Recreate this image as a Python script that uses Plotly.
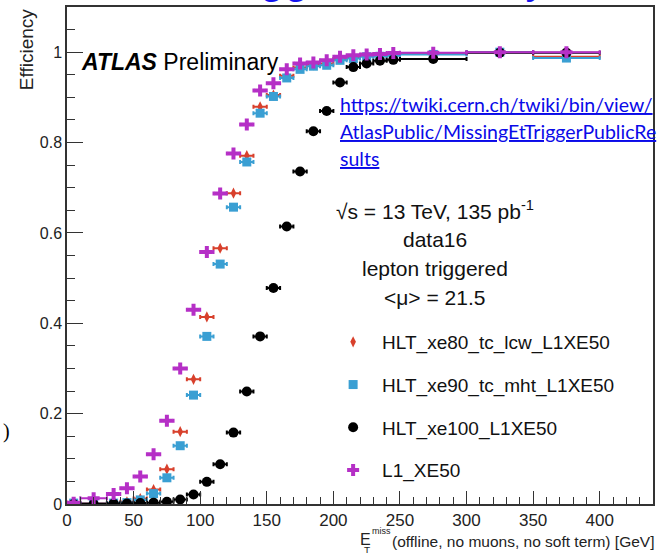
import plotly.graph_objects as go

# ---- data ----
x_centers = [5, 20, 35, 45, 55, 65, 75, 85, 95, 105, 115, 125, 135, 145, 155,
             165, 175, 185, 195, 205, 215, 225, 235, 245, 275, 325, 375]
x_halfwidth = [5, 10, 5, 5, 5, 5, 5, 5, 5, 5, 5, 5, 5, 5, 5,
               5, 5, 5, 5, 5, 5, 5, 5, 5, 25, 25, 25]

eff_xe80_tc_lcw = [0.003, 0.002, 0.003, 0.005, 0.012, 0.032, 0.077, 0.160, 0.276, 0.414,
                   0.566, 0.688, 0.771, 0.879, 0.905, 0.948, 0.966, 0.972, 0.975, 0.985,
                   0.988, 0.992, 0.993, 0.994, 0.996, 1.000, 0.990]
eff_xe90_tc_mht = [0.002, 0.001, 0.002, 0.003, 0.009, 0.023, 0.058, 0.129, 0.241, 0.371,
                   0.531, 0.657, 0.757, 0.865, 0.902, 0.943, 0.962, 0.969, 0.971, 0.982,
                   0.986, 0.990, 0.991, 0.992, 0.995, 1.000, 0.987]
eff_xe100 = [0.000, 0.000, 0.001, 0.001, 0.002, 0.003, 0.005, 0.010, 0.021, 0.049,
             0.088, 0.158, 0.249, 0.371, 0.478, 0.614, 0.736, 0.825, 0.870, 0.933,
             0.967, 0.975, 0.981, 0.983, 0.985, 0.999, 0.999]
eff_l1_xe50 = [0.003, 0.013, 0.022, 0.035, 0.061, 0.110, 0.184, 0.300, 0.430, 0.558,
               0.687, 0.776, 0.840, 0.915, 0.931, 0.962, 0.975, 0.977, 0.982, 0.990,
               0.993, 0.995, 0.996, 0.998, 0.999, 1.000, 1.000]

series_names = ["HLT_xe80_tc_lcw_L1XE50", "HLT_xe90_tc_mht_L1XE50",
                "HLT_xe100_L1XE50", "L1_XE50"]
series_values = [eff_xe80_tc_lcw, eff_xe90_tc_mht, eff_xe100, eff_l1_xe50]
series_colors = ["#d8402c", "#3a9fd3", "#000000", "#b52fc6"]
series_symbols = ["diamond-tall", "square", "circle", "cross"]
series_sizes = [8, 9, 10, 10]

x_ticks = [0, 50, 100, 150, 200, 250, 300, 350, 400]
y_ticks = [0, 0.2, 0.4, 0.6, 0.8, 1.0]
y_tick_labels = ["0", "0.2", "0.4", "0.6", "0.8", "1"]

FONT = "Liberation Sans"

# ---- figure geometry (pixels of the 660x553 page) ----
W, H = 660, 553
L, R, T, B = 67, 5, 7, 49
PW, PH = W - L - R, H - T - B


def px(xp):
    return (xp - L) / PW


def py(yp):
    return (H - B - yp) / PH


fig = go.Figure()
for name, vals, col, sym, size in zip(series_names, series_values, series_colors,
                                      series_symbols, series_sizes):
    fig.add_trace(go.Scatter(
        x=x_centers, y=vals, mode="markers", name=name, legendgroup=name,
        marker=dict(color=col, symbol=sym, size=size, line=dict(width=0)),
        error_x=dict(type="data", array=x_halfwidth, color=col, thickness=2, width=2),
    ))

fig.update_layout(
    width=W, height=H,
    margin=dict(l=L, r=R, t=T, b=B, pad=0),
    paper_bgcolor="white", plot_bgcolor="white",
    font=dict(family=FONT, color="black"),
    showlegend=True,
    legend=dict(
        x=px(325), y=py(323), xanchor="left", yanchor="top",
        bgcolor="rgba(0,0,0,0)", borderwidth=0,
        font=dict(family=FONT, size=19, color="#111111"),
        itemwidth=48, tracegroupgap=15, traceorder="grouped",
    ),
    xaxis=dict(
        range=[0, 440], showgrid=False, zeroline=False,
        showline=True, linecolor="#333333", linewidth=1.5, mirror=True,
        ticks="inside", ticklen=13, tickwidth=1.2, tickcolor="#333333",
        tickvals=x_ticks, ticktext=[str(v) for v in x_ticks],
        tickfont=dict(family=FONT, size=17, color="#222222"),
        minor=dict(dtick=10, ticks="inside", ticklen=7, tickwidth=1.2, tickcolor="#333333"),
    ),
    yaxis=dict(
        range=[0, 1.1], showgrid=False, zeroline=False,
        showline=True, linecolor="#333333", linewidth=1.5, mirror=True,
        ticks="inside", ticklen=16, tickwidth=1.2, tickcolor="#333333",
        tickvals=y_ticks, ticktext=y_tick_labels,
        tickfont=dict(family=FONT, size=16, color="#222222"),
        minor=dict(dtick=0.05, ticks="inside", ticklen=8, tickwidth=1.2, tickcolor="#333333"),
    ),
)

ann = []
# clipped slide title at the very top
ann.append(dict(text="Trigger Efficiency", x=px(208), y=py(4), xref="paper", yref="paper",
                xanchor="left", yanchor="bottom", showarrow=False,
                font=dict(family=FONT, size=44, color="#1414f0")))
# stray character at the left edge
ann.append(dict(text=")", x=px(6), y=py(432), xref="paper", yref="paper",
                xanchor="center", yanchor="middle", showarrow=False,
                font=dict(family="Liberation Serif", size=20, color="black")))
# y-axis title
ann.append(dict(text="Efficiency", x=px(26), y=py(50), xref="paper", yref="paper",
                xanchor="center", yanchor="middle", textangle=-90, showarrow=False,
                font=dict(family=FONT, size=19, color="#222222")))
# x-axis title
ann.append(dict(text="(offline, no muons, no soft term) [GeV]",
                x=px(658), y=py(541), xref="paper", yref="paper",
                xanchor="right", yanchor="middle", showarrow=False,
                font=dict(family=FONT, size=15.5, color="#222222")))
ann.append(dict(text="E", x=px(367), y=py(539), xref="paper", yref="paper",
                xanchor="center", yanchor="middle", showarrow=False,
                font=dict(family=FONT, size=16, color="#222222")))
ann.append(dict(text="miss", x=px(371), y=py(531), xref="paper", yref="paper",
                xanchor="left", yanchor="middle", showarrow=False,
                font=dict(family=FONT, size=9, color="#222222")))
ann.append(dict(text="T", x=px(368), y=py(551), xref="paper", yref="paper",
                xanchor="center", yanchor="middle", showarrow=False,
                font=dict(family=FONT, size=10, color="#222222")))
# ATLAS label
ann.append(dict(text="<b><i>ATLAS</i></b> Preliminary", x=px(79), y=py(62),
                xref="paper", yref="paper", xanchor="left", yanchor="middle",
                showarrow=False, font=dict(family=FONT, size=23, color="black")))
# URL
url_lines = ["https://twiki.cern.ch/twiki/bin/view/",
             "AtlasPublic/MissingEtTriggerPublicRe",
             "sults"]
for line, yy in zip(url_lines, [105, 131, 158]):
    ann.append(dict(text='<span style="text-decoration:underline">' + line + "</span>",
                    x=px(339), y=py(yy), xref="paper", yref="paper",
                    xanchor="left", yanchor="middle", showarrow=False,
                    font=dict(family="Lato", size=19.5, color="#0a0ae8")))
# info text
info_lines = ["√s = 13 TeV, 135 pb<sup>-1</sup>", "data16", "lepton triggered",
              "&lt;μ&gt; = 21.5"]
for line, yy in zip(info_lines, [210, 240, 268, 297]):
    ann.append(dict(text=line, x=px(436), y=py(yy), xref="paper", yref="paper",
                    xanchor="center", yanchor="middle", showarrow=False,
                    font=dict(family=FONT, size=21, color="#111111")))
fig.update_layout(annotations=ann)

# the page's default body margin would shift the figure; remove it
fig.write_html("out.html", config={"displayModeBar": False},
               post_script="document.body.style.margin='0';")
